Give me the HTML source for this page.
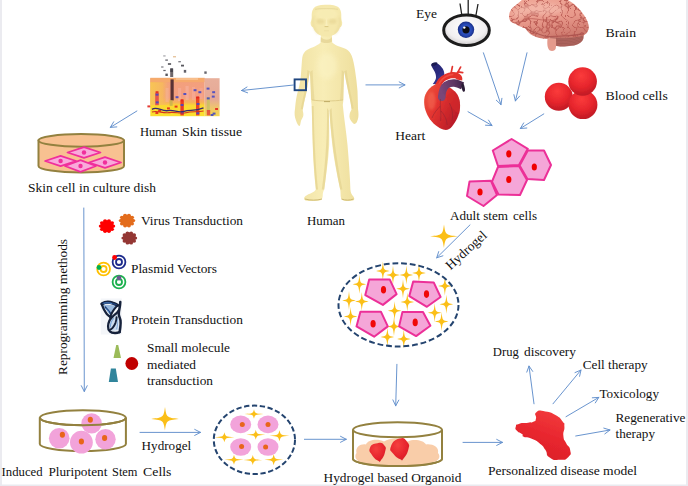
<!DOCTYPE html>
<html><head><meta charset="utf-8"><title>iPSC organoid diagram</title>
<style>
html,body{margin:0;padding:0;background:#fff;}
body{width:688px;height:486px;overflow:hidden;font-family:"Liberation Serif",serif;}
svg{display:block;}
svg text{font-family:"Liberation Serif",serif;fill:#111;}
</style></head><body>
<svg width="688" height="486" viewBox="0 0 688 486">
<defs>
<filter id="b1" x="-10%" y="-10%" width="120%" height="120%"><feGaussianBlur stdDeviation="0.6"/></filter>
<filter id="b2" x="-10%" y="-10%" width="120%" height="120%"><feGaussianBlur stdDeviation="1.2"/></filter>
<filter id="b3" x="-20%" y="-20%" width="140%" height="140%"><feGaussianBlur stdDeviation="2"/></filter>
<radialGradient id="rbc" cx="0.45" cy="0.3" r="0.75"><stop offset="0" stop-color="#fb3b3b"/><stop offset="0.55" stop-color="#e6252c"/><stop offset="1" stop-color="#b81823"/></radialGradient>
<linearGradient id="hum" x1="0" x2="1"><stop offset="0" stop-color="#f0e1a2"/><stop offset="0.45" stop-color="#f8edb6"/><stop offset="1" stop-color="#eede9c"/></linearGradient>
<radialGradient id="eyew" cx="0.5" cy="0.4" r="0.7"><stop offset="0" stop-color="#ffffff"/><stop offset="0.6" stop-color="#f1eff0"/><stop offset="1" stop-color="#b9b5b6"/></radialGradient>
<radialGradient id="iris" cx="0.5" cy="0.5" r="0.5"><stop offset="0" stop-color="#3a63d6"/><stop offset="0.7" stop-color="#2748b4"/><stop offset="1" stop-color="#1a2f86"/></radialGradient>
<linearGradient id="skinf" x1="0" x2="0" y1="0" y2="1"><stop offset="0" stop-color="#f3a07c"/><stop offset="0.5" stop-color="#f49e80"/><stop offset="0.64" stop-color="#f7b458"/><stop offset="0.72" stop-color="#fbd830"/><stop offset="1" stop-color="#fbe02e"/></linearGradient>
<linearGradient id="skinl" x1="0" x2="1" y1="0" y2="0"><stop offset="0" stop-color="#f8c752" stop-opacity="0.95"/><stop offset="0.6" stop-color="#f7bd58" stop-opacity="0.8"/><stop offset="1" stop-color="#f5ab6c" stop-opacity="0"/></linearGradient>
<linearGradient id="skins" x1="0" x2="0" y1="0" y2="1"><stop offset="0" stop-color="#e8b09c"/><stop offset="0.55" stop-color="#e6a896"/><stop offset="0.78" stop-color="#efc66c"/><stop offset="1" stop-color="#f3d650"/></linearGradient>
<filter id="b1s" x="-10%" y="-30%" width="120%" height="160%"><feGaussianBlur stdDeviation="0.7"/></filter>
<linearGradient id="brn" x1="0" x2="0.3" y1="0" y2="1"><stop offset="0" stop-color="#f0a898"/><stop offset="0.6" stop-color="#e8988a"/><stop offset="1" stop-color="#d07c70"/></linearGradient>
<linearGradient id="hrt" x1="0" x2="1" y1="0" y2="0.6"><stop offset="0" stop-color="#ee5a40"/><stop offset="0.45" stop-color="#e43430"/><stop offset="1" stop-color="#b81c28"/></linearGradient>
<filter id="gyri" x="0" y="0" width="100%" height="100%" color-interpolation-filters="sRGB"><feTurbulence type="turbulence" baseFrequency="0.16 0.18" numOctaves="1" seed="5" result="t"/><feColorMatrix in="t" type="matrix" values="0 0 0 0 0.74  0 0 0 0 0.37  0 0 0 0 0.34  -7 0 0 0 0.95"/></filter>
<linearGradient id="blobg" x1="0.7" x2="0.3" y1="0" y2="1"><stop offset="0" stop-color="#f23a3c"/><stop offset="0.5" stop-color="#e8262e"/><stop offset="1" stop-color="#d91f29"/></linearGradient>
<filter id="b0" x="-10%" y="-10%" width="120%" height="120%"><feGaussianBlur stdDeviation="0.4"/></filter>
<radialGradient id="strw" cx="0.4" cy="0.3" r="0.8"><stop offset="0" stop-color="#f5403f"/><stop offset="0.6" stop-color="#e6252d"/><stop offset="1" stop-color="#cf1c27"/></radialGradient>
<linearGradient id="vcg" x1="0" x2="0.6" y1="0" y2="1"><stop offset="0" stop-color="#23236a"/><stop offset="0.6" stop-color="#2c2c80"/><stop offset="1" stop-color="#3c3c96"/></linearGradient>
<linearGradient id="pag" gradientUnits="userSpaceOnUse" x1="441" y1="90" x2="464" y2="86"><stop offset="0" stop-color="#7a4678"/><stop offset="0.6" stop-color="#5e3562"/><stop offset="1" stop-color="#40254a"/></linearGradient>
</defs>
<rect width="688" height="486" fill="#fff"/>
<rect x="0" y="0" width="2" height="486" fill="#ebebf0"/>
<rect x="686" y="0" width="2" height="486" fill="#ebebf0"/>
<rect x="0" y="484.5" width="688" height="1.5" fill="#e9eaef"/>

<g id="human" filter="url(#b1)">
<path d="M321,34 L320.6,42.5 C317,46.5 309,48 305.5,51 C303,53.5 302.3,56 302,60 C301.3,68 301.2,74 300.4,80 C299,88 296.8,94 296,100 C295.4,104 295.3,106 295,109 C294.2,113 294.6,117 296,120.5 C297,123.2 298.4,126.4 299.6,126 C300.6,125.2 300.4,122.2 301.2,120.2 C302,118.5 303.6,117 303.4,114 C303.2,112 302.7,111 302.8,109.5 C303.8,103 305.4,97 306.6,91.5 C307.8,85 308.8,78 309.8,71.5 C310.3,80 310.8,90 311,99 C311.2,101.5 311.4,103 311.6,105 C312.2,118 312.4,132 312.7,145 C313.1,160 314.4,176 315.8,189.5 C314.5,192.5 309,193.5 305.5,196 C303.5,197.5 303.5,200 305.5,200.6 C310,201.4 316,201.2 320,200.4 C322.4,199.8 322.8,197 322.8,194 C323,192 323.6,191 324.2,189.5 C326,175 328.6,159 329.2,145 C329.5,132 329.1,120 328.8,110.5 C329,109.8 329.2,109.8 329.4,110.5 C330,121 331,133 332.3,145 C334,160 337.4,176 340.2,189.5 C340.4,191 340.6,192.5 340.6,194.5 C340.6,197.5 341,199.8 343.4,200.4 C346.5,201.2 350.6,201.2 353,200.6 C354.8,200 354.6,197.6 353.2,196.2 C351.8,194.6 350.6,193 350.4,189.5 C350,176 348.8,160 347.5,145 C346.3,132 344,118 342.8,105 C343,103 343.3,101.5 343.4,99 C343.6,90 343.9,80 344.2,71.5 C345.4,78 346.8,85 348.2,91.5 C349.4,97 350.8,103 351.6,109 C351,111 349.8,112.5 349.6,114.5 C349,117.5 350,119.5 351.2,121 C352.2,122.4 353,123.6 354.2,123.9 C355.8,124.2 357,122.2 357.8,119.5 C358.8,117 358.6,113 358,109 C357.8,103 357.8,97 357.5,91 C357,84 356,77 355,70 C354.2,65 353.2,59.5 351.8,56 C350.6,53 349,51 347.5,50 C344,47.5 336,46.5 332.2,42.5 L331.8,34 Z" fill="url(#hum)"/>
<path d="M310,72 C310.5,82 311,92 311.2,100 L314.5,100 C313.5,90 313,80 312.6,70 Z" fill="#e2d08c" opacity="0.55"/>
<path d="M344,72 C343.7,82 343.4,92 343.2,100 L340,100 C341,90 341.5,80 341.8,70 Z" fill="#e2d08c" opacity="0.55"/>
<path d="M312,100 C320,101.3 334,101.3 343,100" stroke="#d6c27c" stroke-width="0.9" fill="none" opacity="0.8"/>
<path d="M324,101.6 L330,101.6" stroke="#b9a560" stroke-width="0.9" fill="none"/>
<ellipse cx="327" cy="66" rx="10" ry="13" fill="#fbf3c4" opacity="0.6" filter="url(#b3)"/>
<path d="M320.8,37 C324,40.5 330,40.5 331.8,37 L331.9,41.5 C329,43.5 323.5,43.5 320.7,41.5 Z" fill="#dcc987" opacity="0.55"/>
<path d="M328.8,110.5 C329.3,130 328.6,160 324.2,189.5 L321.8,189.5 C326,160 327.4,130 327,108 Z" fill="#e4d390" opacity="0.7"/>
<path d="M329.4,110.5 C330.5,130 334,160 340.2,189.5 L342.4,189.5 C336.5,160 332.6,130 331.6,108 Z" fill="#e4d390" opacity="0.7"/>
<path d="M311.8,106 C312.2,130 313.2,165 316,189.5 L318,189.5 C315.2,165 314,130 313.6,106 Z" fill="#e6d491" opacity="0.8"/>
<path d="M309.8,71.5 C308.8,78 307.8,85 306.6,91.5 C305.4,97 303.8,103 302.8,109.5 L300.8,109 C302,102 303.6,96 304.6,91 C305.8,85 306.8,78 307.4,70 Z" fill="#e2d08c" opacity="0.6"/>
<path d="M344.2,71.5 C345.4,78 346.8,85 348.2,91.5 C349.4,97 350.8,103 351.6,109 L353.6,108.6 C352.6,102 351.2,96 350.2,91 C349,85 347.6,78 346.6,70 Z" fill="#e2d08c" opacity="0.6"/>
<path d="M305,199 C310,200.5 317,200.5 322,199" stroke="#cdb974" stroke-width="1" fill="none"/>
<path d="M341.5,199 C345,200.5 350,200.5 353.5,199" stroke="#cdb974" stroke-width="1" fill="none"/>
<path d="M326.5,4.8 C333,4.6 337.5,5.6 339.6,8.6 C341.2,11 341.4,14 341.3,17.5 C341.4,19.5 341.6,20.5 342.2,22.5 C342.4,25.5 341,27.2 340,27.2 C338.6,32 334,36.6 326.5,36.6 C319,36.6 314.4,32 313,27.2 C312,27.2 310.4,25.5 310.6,22.5 C311.2,20.5 311.6,19.5 311.7,17.5 C311.6,14 311.8,11 313.4,8.6 C315.5,5.6 320,4.6 326.5,4.8 Z" fill="#f5e8ac"/>
<ellipse cx="326.5" cy="14" rx="11" ry="6" fill="#f9efb9" opacity="0.6" filter="url(#b2)"/>
<path d="M315,9.3 C320,8.4 333,8.4 338,9.3" stroke="#d9c785" stroke-width="0.7" fill="none" opacity="0.7"/>
<ellipse cx="320.3" cy="21.3" rx="4" ry="2.6" fill="#dfcb86" opacity="0.42" filter="url(#b2)"/>
<ellipse cx="332.7" cy="21.3" rx="4" ry="2.6" fill="#dfcb86" opacity="0.42" filter="url(#b2)"/>
<path d="M326.5,17 L325.3,26 L327.7,26 Z" fill="#faf0be" opacity="0.9"/>
<path d="M324.6,26.6 L328.4,26.6" stroke="#d8c47f" stroke-width="0.9"/>
<path d="M324,30.8 L329,30.8" stroke="#e4d394" stroke-width="0.6" opacity="0.6"/>
<path d="M339.5,17 C341,22 339.5,29 335,34" stroke="#e4d190" stroke-width="1.6" fill="none" opacity="0.6" filter="url(#b2)"/>
<path d="M313.5,17 C312,22 313.5,29 318,34" stroke="#e4d190" stroke-width="1.6" fill="none" opacity="0.5" filter="url(#b2)"/>
</g>
<g id="skin" filter="url(#b1s)">
<rect x="150.3" y="78.2" width="54.4" height="38" fill="url(#skinf)"/>
<rect x="150.3" y="82" width="20" height="23" fill="url(#skinl)"/>
<rect x="150.3" y="77.8" width="54.4" height="4.4" fill="#f5ab6c" opacity="0.95"/>
<rect x="176" y="78" width="22" height="2" fill="#f9c79a" opacity="0.7"/>
<rect x="204.6" y="78.2" width="15" height="38" fill="url(#skins)"/>
<rect x="165.5" y="88" width="3.2" height="14" fill="#f6b59a" opacity="0.5"/>
<rect x="178" y="88" width="3.2" height="13" fill="#f7b4a4" opacity="0.5"/>
<rect x="185.5" y="86" width="3.2" height="14" fill="#f8b8a8" opacity="0.5"/>
<rect x="192" y="87" width="3.2" height="13" fill="#f7b0a0" opacity="0.5"/>
<rect x="199.5" y="88" width="3.2" height="11" fill="#f6aa98" opacity="0.5"/>
<rect x="170.5" y="79.4" width="3.2" height="21" fill="#5a3234"/>
<rect x="170.2" y="68.5" width="3" height="8.5" fill="#4a4148" opacity="0.8"/>
<rect x="169.6" y="100.3" width="3" height="5.6" fill="#c9b04e" opacity="0.85"/>
<rect x="180.4" y="100.4" width="3.4" height="15" fill="#ea3a26"/>
<rect x="196" y="97" width="3.4" height="18.4" fill="#ea4226"/>
<rect x="155.2" y="92.8" width="3.6" height="12.4" fill="#e4504e" opacity="0.95"/>
<rect x="206.8" y="97" width="3" height="14" fill="#c8c060" opacity="0.85"/>
<rect x="206.8" y="110" width="3.4" height="5.4" fill="#e24a3a" opacity="0.9"/>
<rect x="155.6" y="93.6" width="2.9" height="2" fill="#4448c4" opacity="0.9"/>
<rect x="155.8" y="101.4" width="2.9" height="2" fill="#4448c4" opacity="0.9"/>
<rect x="180.8" y="111.8" width="2.9" height="2" fill="#4448c4" opacity="0.9"/>
<rect x="196.4" y="112.2" width="2.9" height="2" fill="#4448c4" opacity="0.9"/>
<rect x="175.6" y="96.2" width="2.9" height="2" fill="#4448c4" opacity="0.9"/>
<rect x="183.4" y="93.0" width="2.9" height="2" fill="#4448c4" opacity="0.9"/>
<rect x="198.4" y="91.2" width="2.9" height="2" fill="#4448c4" opacity="0.9"/>
<rect x="193.6" y="89.2" width="2.9" height="2" fill="#4448c4" opacity="0.9"/>
<rect x="206.6" y="87.6" width="2.9" height="2" fill="#4448c4" opacity="0.9"/>
<rect x="212.2" y="91.2" width="2.9" height="2" fill="#4448c4" opacity="0.9"/>
<rect x="211.8" y="95.6" width="2.9" height="2" fill="#4448c4" opacity="0.9"/>
<rect x="206.8" y="97.4" width="2.9" height="2" fill="#4448c4" opacity="0.9"/>
<rect x="212.6" y="112.6" width="2.9" height="2" fill="#4448c4" opacity="0.9"/>
<rect x="210.6" y="114.0" width="2.9" height="2" fill="#4448c4" opacity="0.9"/>
<rect x="180.6" y="104.0" width="2.9" height="2" fill="#4448c4" opacity="0.9"/>
<rect x="196.6" y="103.0" width="2.9" height="2" fill="#4448c4" opacity="0.9"/>
<rect x="147.4" y="105.4" width="2.9" height="2" fill="#e2261e" opacity="0.9"/>
<rect x="155.4" y="112.0" width="2.9" height="2" fill="#e2261e" opacity="0.9"/>
<rect x="167.0" y="107.4" width="2.9" height="2" fill="#e2261e" opacity="0.9"/>
<rect x="174.6" y="105.6" width="2.9" height="2" fill="#e2261e" opacity="0.9"/>
<rect x="180.6" y="99.2" width="2.9" height="2" fill="#e2261e" opacity="0.9"/>
<rect x="196.2" y="96.4" width="2.9" height="2" fill="#e2261e" opacity="0.9"/>
<rect x="155.6" y="91.2" width="2.9" height="2" fill="#e2261e" opacity="0.9"/>
<rect x="215.1" y="108.0" width="2.9" height="2" fill="#e2261e" opacity="0.9"/>
<rect x="158.1" y="109.8" width="2.9" height="2" fill="#e2261e" opacity="0.9"/>
<path d="M152,109.4 C157,106 162,111.8 168,110.6 C174,109.4 178,113.2 184,111.4 C190,109.6 195,111.6 203.5,107.8" stroke="#352a70" stroke-width="1.3" fill="none"/>
<path d="M152,112 C158,110.2 163,113.8 169,112.6 C175,111.4 180,114.4 186,112.8 C192,111.2 197,112.4 203.5,111" stroke="#d4321e" stroke-width="1.1" fill="none"/>
<rect x="165.3" y="59.5" width="2.6" height="1.2" fill="#4a4a52" opacity="0.9"/>
<rect x="167.9" y="63.2" width="3.2" height="1.6" fill="#3d3d46" opacity="0.9"/>
<rect x="181.0" y="64.7" width="3" height="1.8" fill="#45454e" opacity="0.9"/>
<rect x="170.3" y="68.4" width="2.6" height="3.6" fill="#3f3f48" opacity="0.9"/>
<rect x="183.8" y="69.9" width="2.4" height="2.8" fill="#50505a" opacity="0.9"/>
<rect x="165.4" y="73.6" width="2.4" height="2.4" fill="#44444c" opacity="0.9"/>
<rect x="204.3" y="71.4" width="2.4" height="2.4" fill="#55555e" opacity="0.9"/>
<rect x="161.1" y="66.4" width="2.4" height="1.2" fill="#6a6a72" opacity="0.9"/>
<rect x="163.3" y="69.9" width="2.4" height="1.2" fill="#55555c" opacity="0.9"/>
<rect x="178.3" y="61.2" width="2.6" height="1.1" fill="#55555e" opacity="0.9"/>
<rect x="173.0" y="56.3" width="3" height="1" fill="#d9a46a" opacity="0.9"/>
<rect x="163.2" y="55.5" width="2.4" height="0.9" fill="#77777e" opacity="0.9"/>
</g>
<clipPath id="brclip"><path d="M509,16 C509.3,11.5 511.5,8 515.5,5.6 C518,3.6 520.5,1 523,-1 L566,-1 C571,1.5 575.5,4.5 579,9 C584,14.5 588.2,20.5 588.8,26.5 C589,30.5 587,33.5 583.5,35.4 C577,37.4 566,38 556,37.4 C552,37.2 549.5,37.6 547.5,38.6 C543.5,38.8 539.5,38.2 536.3,37 C531,35 527.5,32 525.4,28.4 C522,27.5 518.5,26 516,24 C512.5,23.4 510,21.5 509.6,19.5 C509.2,18.4 509,17.2 509,16 Z"/></clipPath>
<clipPath id="cbclip"><path d="M549.5,36 C556,37.6 572,37.6 583.4,34.6 C584.6,39.5 581.5,44 574,45.6 C566,47 556,46.6 551.5,44.4 C550,42 549.5,39 549.5,36 Z"/></clipPath>
<g id="brain" filter="url(#b1)">
<path d="M549.5,36 C556,37.6 572,37.6 583.4,34.6 C584.6,39.5 581.5,44 574,45.6 C566,47 556,46.6 551.5,44.4 C550,42 549.5,39 549.5,36 Z" fill="#b56a62"/>
<g clip-path="url(#cbclip)">
<path d="M549,37.5 C560,40.1 572,39.7 585,35.1" stroke="#8e4d49" stroke-width="0.6" fill="none" opacity="0.85"/>
<path d="M549,39.0 C560,41.6 572,41.2 585,36.6" stroke="#8e4d49" stroke-width="0.6" fill="none" opacity="0.85"/>
<path d="M549,40.5 C560,43.1 572,42.7 585,38.1" stroke="#8e4d49" stroke-width="0.6" fill="none" opacity="0.85"/>
<path d="M549,42.0 C560,44.6 572,44.2 585,39.6" stroke="#8e4d49" stroke-width="0.6" fill="none" opacity="0.85"/>
<path d="M549,43.5 C560,46.1 572,45.7 585,41.1" stroke="#8e4d49" stroke-width="0.6" fill="none" opacity="0.85"/>
<path d="M549,45.0 C560,47.6 572,47.2 585,42.6" stroke="#8e4d49" stroke-width="0.6" fill="none" opacity="0.85"/>
<path d="M549,46.5 C560,49.1 572,48.7 585,44.1" stroke="#8e4d49" stroke-width="0.6" fill="none" opacity="0.85"/>
</g>
<path d="M547.6,38 C547,43 547.2,48 549.5,50.2 C551.5,51.4 554.5,51 555.6,49 C556.4,46 556,42 556,38.5 Z" fill="#e49a8c"/>
<path d="M509,16 C509.3,11.5 511.5,8 515.5,5.6 C518,3.6 520.5,1 523,-1 L566,-1 C571,1.5 575.5,4.5 579,9 C584,14.5 588.2,20.5 588.8,26.5 C589,30.5 587,33.5 583.5,35.4 C577,37.4 566,38 556,37.4 C552,37.2 549.5,37.6 547.5,38.6 C543.5,38.8 539.5,38.2 536.3,37 C531,35 527.5,32 525.4,28.4 C522,27.5 518.5,26 516,24 C512.5,23.4 510,21.5 509.6,19.5 C509.2,18.4 509,17.2 509,16 Z" fill="url(#brn)"/>
<g clip-path="url(#brclip)">
<rect x="505" y="-2" width="90" height="45" fill="#c0635b" filter="url(#gyri)"/>
<path d="M516,23.8 C521,22.4 524,20 527,19 C533,17.5 540,20.5 546,20 C552,19.5 556,22.5 561,24.5" stroke="#b85a54" stroke-width="0.9" fill="none" opacity="0.8"/>
<path d="M525.4,28.4 C529,29.5 531.5,32 535.5,33 C539.5,34 543,36.5 548,36.6 C556,36.4 570,36.4 584,33.6" stroke="#a8504c" stroke-width="1.1" fill="none" opacity="0.8"/>
<ellipse cx="542" cy="9" rx="22" ry="6" fill="#f9c9bb" opacity="0.5" filter="url(#b3)"/>
<ellipse cx="519" cy="13" rx="7" ry="5" fill="#f7c2b3" opacity="0.5" filter="url(#b3)"/>
<path d="M575,40 C583,37 589,32 589,24 L592,24 L592,42 Z" fill="#c87468" opacity="0.35" filter="url(#b3)"/>
</g>
</g>
<g id="heart" filter="url(#b1)">
<path d="M431.1,64.9 C432.5,62.6 436,62.4 437.5,63.6 C439.5,65 441.4,66.8 442.6,68.6 C443.8,70.4 444.4,72.6 444.3,74.6 C444.2,76.6 443.6,78.6 442.4,80.4 C441.2,82.2 439.8,83.4 438.1,84.6 L432.8,84 C434.4,82 435.6,80 436,77.9 C436.2,75.4 435.4,73 434.3,71 C433.2,69 431.8,67 431.1,64.9 Z" fill="url(#vcg)"/>
<ellipse cx="434.4" cy="64" rx="3.2" ry="1.5" fill="#1a1a50" transform="rotate(-18 434.4 64)"/>
<path d="M450.7,75 L452.4,66.6 M455.4,75.4 L458,71.8 L460.6,67.1 M458,71.8 L462.7,72.7" stroke="#e2342e" stroke-width="1.7" fill="none" stroke-linecap="round"/>
<path d="M437.3,88 C439,82 442,78.6 445.9,77 C448.5,75.6 451,75 452.8,74.9 C455.5,75 457.8,75.8 458.9,77.4 C459.4,78.2 459.5,79 459.3,80" stroke="#e3302c" stroke-width="6" fill="none" stroke-linecap="butt" stroke-linejoin="round"/>
<path d="M439,84 C441,80 443.6,77.6 446.5,76.2 C449,75 451.4,74.4 453.4,74.4" stroke="#f25a48" stroke-width="1.6" opacity="0.7" fill="none" stroke-linecap="butt" stroke-linejoin="round"/>
<path d="M438.5,83.5 C432,85 426.4,90 424.6,97 C423.2,104 425,111 428.5,117 C432,123 438,128 444,129.8 C447.5,130.4 450,129 452,126.5 C456,121.5 459.5,115 460,107.5 C460.4,101 458.5,95 455,91.5 C451,88 445,84 438.5,83.5 Z" fill="url(#hrt)"/>
<path d="M446,97 C450,92 455,91 458,96 C460.6,101 460.6,108 459,114 C456,112 452,108 449.6,104 Z" fill="#d42a2c" opacity="0.6"/>
<path d="M441.6,97.5 C442,92 443.4,87.4 446.4,85 C449,83.2 452,82.8 454.5,83 C457.4,83.4 460,84.6 462.6,85.8" stroke="url(#pag)" stroke-width="7.4" fill="none" stroke-linecap="butt" stroke-linejoin="round"/>
<circle cx="441.7" cy="97.3" r="3.7" fill="#7a4678"/>
<ellipse cx="463.2" cy="87.6" rx="1.5" ry="4.3" fill="#2a1a34" transform="rotate(-12 463.2 87.6)"/>
<path d="M440.5,99 C439.6,106 441.6,113 440.6,121 M440.4,106 C436.6,110 433.8,113 432,118 M441,111 C444.6,115 446.6,119 447.2,125 M449.4,103 C452.2,108 453.2,114 452.2,120" stroke="#8a2430" stroke-width="0.7" fill="none" opacity="0.7"/>
<ellipse cx="431.6" cy="101" rx="4" ry="9" fill="#f8745c" opacity="0.45" filter="url(#b2)"/>
</g>
<g id="protein" filter="url(#b1)">
<rect x="100.8" y="298.5" width="21" height="36" fill="#f4f6f9"/>
<path d="M102.5,304.5 L116.5,305.5 L110.5,316 Z" fill="#4f86c6" opacity="0.55"/>
<path d="M110.5,320 C112,318 115,316 117.5,314 L119,330 L112,331 C109.5,328 109.5,323 110.5,320 Z" fill="#7fa9d8" opacity="0.35"/>
<path d="M101.9,303.8 C105,302 109,301.8 112.6,303 C114.6,303.6 116.2,304.4 117.7,305.3" stroke="#14203a" stroke-width="3.2" fill="none" stroke-linecap="round" stroke-linejoin="round"/>
<path d="M102.6,303.6 C105.4,302.4 109,302.4 112.4,303.4 C114,303.9 115.4,304.4 116.6,305" stroke="#1f3f78" stroke-width="1.6" fill="none" stroke-linecap="round" stroke-linejoin="round"/>
<path d="M104,303.2 C106.5,302.6 109,302.8 111.5,303.5" stroke="#5b93d3" stroke-width="0.8" fill="none" stroke-linecap="round" stroke-linejoin="round"/>
<path d="M101.9,304.7 C102.6,306.6 103.2,308.2 104.1,309.8 C105,311.4 106,313 107,314.3 C108.2,315.6 109.6,316.5 110.9,317.1" stroke="#14203a" stroke-width="2.3" fill="none" stroke-linecap="round" stroke-linejoin="round"/>
<path d="M105.3,307 C106.6,308.6 108,310 109.2,311.5 C109.9,312.4 110.5,313.3 110.9,314.3" stroke="#1f3f78" stroke-width="1.5" fill="none" stroke-linecap="round" stroke-linejoin="round"/>
<path d="M105.8,308.4 C107,309.6 108,310.8 108.8,312" stroke="#5b93d3" stroke-width="0.8" fill="none" stroke-linecap="round" stroke-linejoin="round"/>
<path d="M117.7,305.3 C116.4,306.6 115.3,307.9 114.3,309.2 C113.2,310.7 112.3,312.2 111.5,313.8 C110.9,315.1 110.4,316.4 110.1,317.7" stroke="#14203a" stroke-width="2" fill="none" stroke-linecap="round" stroke-linejoin="round"/>
<path d="M120.3,301.9 C120.2,304 120,306 119.6,308.1 C119.2,310.2 118.6,312.2 118.8,314.3 C119,316.4 120.2,318.4 120.5,320.5 C120.8,322.8 120.6,325 120.3,327.3 C120.1,328.9 119.9,330.5 119.6,332.1" stroke="#14203a" stroke-width="2.5" fill="none" stroke-linecap="round" stroke-linejoin="round"/>
<path d="M119.6,332.1 C118,332.8 116.5,333.1 114.9,333 C113,332.9 111,332.4 109.8,331.3 C108.5,330 108,328.1 108.1,326.2 C108.2,324.2 108.7,322.2 109.5,320.5 C110.3,319 111.4,317.7 112.6,316.6 C113.9,315.4 115.3,314.3 116.6,313.2 C117.4,312.4 118.2,311.4 118.8,310.4" stroke="#14203a" stroke-width="2.3" fill="none" stroke-linecap="round" stroke-linejoin="round"/>
<path d="M110.2,327 C110.4,324 111.4,321 113.4,318.6" stroke="#5b93d3" stroke-width="0.9" fill="none" stroke-linecap="round" stroke-linejoin="round"/>
<path d="M116.6,317.1 C116.5,319 116.1,321 115.5,322.8 C114.8,324.7 113.8,326.4 112.6,327.9 C112,328.6 111.2,329.2 110.4,329.6" stroke="#14203a" stroke-width="1.9" fill="none" stroke-linecap="round" stroke-linejoin="round"/>
<path d="M117.8,319 C118,322 117.6,326 116.6,329" stroke="#5b93d3" stroke-width="0.8" opacity="0.8" fill="none" stroke-linecap="round" stroke-linejoin="round"/>
</g>
<g id="eye">
<path d="M460,3.5L461.8,15M468.2,0L468.2,14M478,4L476,15" stroke="#222" stroke-width="1.3" fill="none"/>
<ellipse cx="466.5" cy="30.2" rx="22.8" ry="15.2" fill="url(#eyew)" stroke="#1c1c1c" stroke-width="3"/>
<circle cx="466" cy="29.8" r="8.2" fill="url(#iris)"/>
<circle cx="466" cy="29.8" r="3.6" fill="#0c0c14"/>
<circle cx="464.3" cy="27.6" r="1.2" fill="#fff"/>
</g>
<g id="blood" filter="url(#b0)">
<circle cx="558.8" cy="96.8" r="14" fill="url(#rbc)"/>
<circle cx="583" cy="104.7" r="14.4" fill="url(#rbc)"/>
<circle cx="582.6" cy="81.5" r="14.3" fill="url(#rbc)"/>
</g>
<polygon points="511.6,139.0 527.8,148.8 519.0,165.0 498.0,166.0 492.8,150.5" fill="#f5a6d8" stroke="#ec3098" stroke-width="2" stroke-linejoin="round"/>
<polygon points="527.8,150.5 544.0,150.5 551.0,165.0 544.0,180.0 527.4,179.0 519.6,165.6" fill="#f5a6d8" stroke="#ec3098" stroke-width="2" stroke-linejoin="round"/>
<polygon points="498.0,167.0 519.0,166.0 527.0,180.0 520.0,195.0 498.6,194.6 492.0,181.6" fill="#f5a6d8" stroke="#ec3098" stroke-width="2" stroke-linejoin="round"/>
<polygon points="469.5,181.6 491.0,180.8 497.0,195.0 483.5,206.0 467.0,196.0" fill="#f5a6d8" stroke="#ec3098" stroke-width="2" stroke-linejoin="round"/>
<ellipse cx="508.8" cy="153.8" rx="2.6" ry="3.6" fill="#f00000"/>
<ellipse cx="534.3" cy="167" rx="2.6" ry="3.6" fill="#f00000"/>
<ellipse cx="508.8" cy="179.5" rx="2.6" ry="3.6" fill="#f00000"/>
<ellipse cx="480" cy="192" rx="2.6" ry="3.6" fill="#f00000"/>
<path d="M382.9,261.5C383.71,269.86 383.71,269.86 389.6,271.0C383.71,272.14 383.71,272.14 382.9,280.5C382.09,272.14 382.09,272.14 376.1,271.0C382.09,269.86 382.09,269.86 382.9,261.5Z" fill="#fbbf17"/>
<path d="M393.0,265.6C393.81,273.96 393.81,273.96 399.8,275.1C393.81,276.24 393.81,276.24 393.0,284.6C392.19,276.24 392.19,276.24 386.2,275.1C392.19,273.96 392.19,273.96 393.0,265.6Z" fill="#fbbf17"/>
<path d="M406.4,265.6C407.21,273.96 407.21,273.96 413.1,275.1C407.21,276.24 407.21,276.24 406.4,284.6C405.59,276.24 405.59,276.24 399.6,275.1C405.59,273.96 405.59,273.96 406.4,265.6Z" fill="#fbbf17"/>
<path d="M419.0,263.5C419.81,271.86 419.81,271.86 425.8,273.0C419.81,274.14 419.81,274.14 419.0,282.5C418.19,274.14 418.19,274.14 412.2,273.0C418.19,271.86 418.19,271.86 419.0,263.5Z" fill="#fbbf17"/>
<path d="M359.4,274.8C360.21,283.16 360.21,283.16 366.1,284.3C360.21,285.44 360.21,285.44 359.4,293.8C358.59,285.44 358.59,285.44 352.6,284.3C358.59,283.16 358.59,283.16 359.4,274.8Z" fill="#fbbf17"/>
<path d="M403.0,279.3C403.81,287.66 403.81,287.66 409.8,288.8C403.81,289.94 403.81,289.94 403.0,298.3C402.19,289.94 402.19,289.94 396.2,288.8C402.19,287.66 402.19,287.66 403.0,279.3Z" fill="#fbbf17"/>
<path d="M444.9,276.4C445.71,284.76 445.71,284.76 451.6,285.9C445.71,287.04 445.71,287.04 444.9,295.4C444.09,287.04 444.09,287.04 438.1,285.9C444.09,284.76 444.09,284.76 444.9,276.4Z" fill="#fbbf17"/>
<path d="M349.0,290.9C349.81,299.26 349.81,299.26 355.8,300.4C349.81,301.54 349.81,301.54 349.0,309.9C348.19,301.54 348.19,301.54 342.2,300.4C348.19,299.26 348.19,299.26 349.0,290.9Z" fill="#fbbf17"/>
<path d="M361.8,292.0C362.61,300.36 362.61,300.36 368.6,301.5C362.61,302.64 362.61,302.64 361.8,311.0C360.99,302.64 360.99,302.64 355.1,301.5C360.99,300.36 360.99,300.36 361.8,292.0Z" fill="#fbbf17"/>
<path d="M407.3,292.4C408.11,300.76 408.11,300.76 414.1,301.9C408.11,303.04 408.11,303.04 407.3,311.4C406.49,303.04 406.49,303.04 400.6,301.9C406.49,300.76 406.49,300.76 407.3,292.4Z" fill="#fbbf17"/>
<path d="M446.4,294.8C447.21,303.16 447.21,303.16 453.1,304.3C447.21,305.44 447.21,305.44 446.4,313.8C445.59,305.44 445.59,305.44 439.6,304.3C445.59,303.16 445.59,303.16 446.4,294.8Z" fill="#fbbf17"/>
<path d="M350.6,307.1C351.41,315.46 351.41,315.46 357.4,316.6C351.41,317.74 351.41,317.74 350.6,326.1C349.79,317.74 349.79,317.74 343.9,316.6C349.79,315.46 349.79,315.46 350.6,307.1Z" fill="#fbbf17"/>
<path d="M394.6,301.2C395.41,309.56 395.41,309.56 401.4,310.7C395.41,311.84 395.41,311.84 394.6,320.2C393.79,311.84 393.79,311.84 387.9,310.7C393.79,309.56 393.79,309.56 394.6,301.2Z" fill="#fbbf17"/>
<path d="M434.7,303.2C435.51,311.56 435.51,311.56 441.4,312.7C435.51,313.84 435.51,313.84 434.7,322.2C433.89,313.84 433.89,313.84 427.9,312.7C433.89,311.56 433.89,311.56 434.7,303.2Z" fill="#fbbf17"/>
<path d="M441.6,312.0C442.41,320.36 442.41,320.36 448.4,321.5C442.41,322.64 442.41,322.64 441.6,331.0C440.79,322.64 440.79,322.64 434.9,321.5C440.79,320.36 440.79,320.36 441.6,312.0Z" fill="#fbbf17"/>
<path d="M394.0,316.9C394.81,325.26 394.81,325.26 400.8,326.4C394.81,327.54 394.81,327.54 394.0,335.9C393.19,327.54 393.19,327.54 387.2,326.4C393.19,325.26 393.19,325.26 394.0,316.9Z" fill="#fbbf17"/>
<path d="M387.4,327.6C388.21,335.96 388.21,335.96 394.1,337.1C388.21,338.24 388.21,338.24 387.4,346.6C386.59,338.24 386.59,338.24 380.6,337.1C386.59,335.96 386.59,335.96 387.4,327.6Z" fill="#fbbf17"/>
<path d="M403.8,329.6C404.61,337.96 404.61,337.96 410.6,339.1C404.61,340.24 404.61,340.24 403.8,348.6C402.99,340.24 402.99,340.24 397.1,339.1C402.99,337.96 402.99,337.96 403.8,329.6Z" fill="#fbbf17"/>
<ellipse cx="398.5" cy="304.9" rx="60" ry="41.6" fill="none" stroke="#24446f" stroke-width="2" stroke-dasharray="5.8 2.9"/>
<polygon points="369.2,279.4 389.7,279.4 396.6,294.1 382.9,304.9 365.3,295.1" fill="#f5a6d8" stroke="#ec3098" stroke-width="2" stroke-linejoin="round"/>
<ellipse cx="383.5" cy="289.8" rx="2.6" ry="3.8" fill="#f00808"/>
<polygon points="413.2,281.4 433.7,282.4 440.6,297.0 426.9,306.8 409.3,296.1" fill="#f5a6d8" stroke="#ec3098" stroke-width="2" stroke-linejoin="round"/>
<ellipse cx="426.5" cy="294.1" rx="2.6" ry="3.8" fill="#f00808"/>
<polygon points="360.4,311.7 380.9,311.7 387.8,326.4 374.1,336.7 356.5,326.4" fill="#f5a6d8" stroke="#ec3098" stroke-width="2" stroke-linejoin="round"/>
<ellipse cx="373.1" cy="323.8" rx="2.6" ry="3.8" fill="#f00808"/>
<polygon points="402.4,312.1 423.0,312.1 430.4,325.8 416.1,336.1 399.1,326.4" fill="#f5a6d8" stroke="#ec3098" stroke-width="2" stroke-linejoin="round"/>
<ellipse cx="415.2" cy="322.4" rx="2.6" ry="3.8" fill="#f00808"/>
<path d="M444.0,224.4C445.54,234.91 445.54,234.91 458.0,236.2C445.54,237.49 445.54,237.49 444.0,247.9C442.46,237.49 442.46,237.49 430.0,236.2C442.46,234.91 442.46,234.91 444.0,224.4Z" fill="#fbbf17"/>
<path d="M38.5,140.4 L38.5,166 A42.7,6.5 0 0 0 124,166 L124,140.4 Z" fill="#f8c191" stroke="#93813f" stroke-width="2"/>
<ellipse cx="81.2" cy="140.4" rx="42.7" ry="6.3" fill="#f8c191" stroke="#93813f" stroke-width="2"/>
<polygon points="67.5,152.5 84.0,147.2 100.5,152.5 84.0,157.8" fill="#f9a9da" stroke="#f02f9b" stroke-width="1.8" stroke-linejoin="round"/>
<circle cx="84" cy="152.5" r="2.2" fill="#f02f9b"/>
<polygon points="45.1,161.0 60.6,155.8 76.1,161.0 60.6,166.2" fill="#f9a9da" stroke="#f02f9b" stroke-width="1.8" stroke-linejoin="round"/>
<circle cx="60.6" cy="161" r="2.2" fill="#f02f9b"/>
<polygon points="89.0,162.5 105.0,157.2 121.0,162.5 105.0,167.8" fill="#f9a9da" stroke="#f02f9b" stroke-width="1.8" stroke-linejoin="round"/>
<circle cx="105" cy="162.5" r="2.2" fill="#f02f9b"/>
<polygon points="65.0,166.0 80.5,160.2 96.0,166.0 80.5,171.8" fill="#f9a9da" stroke="#f02f9b" stroke-width="1.8" stroke-linejoin="round"/>
<circle cx="80.5" cy="166" r="2.2" fill="#f02f9b"/>
<g transform="translate(107,226.1) scale(1,0.87)">
<circle cx="0" cy="0" r="6.79" fill="#ff0000"/>
<circle cx="6.32" cy="0.00" r="1.90" fill="#ff0000"/>
<circle cx="5.11" cy="3.71" r="1.90" fill="#ff0000"/>
<circle cx="1.95" cy="6.01" r="1.90" fill="#ff0000"/>
<circle cx="-1.95" cy="6.01" r="1.90" fill="#ff0000"/>
<circle cx="-5.11" cy="3.71" r="1.90" fill="#ff0000"/>
<circle cx="-6.32" cy="0.00" r="1.90" fill="#ff0000"/>
<circle cx="-5.11" cy="-3.71" r="1.90" fill="#ff0000"/>
<circle cx="-1.95" cy="-6.01" r="1.90" fill="#ff0000"/>
<circle cx="1.95" cy="-6.01" r="1.90" fill="#ff0000"/>
<circle cx="5.11" cy="-3.71" r="1.90" fill="#ff0000"/>
</g>
<g transform="translate(127,220.6) scale(1,0.87)">
<circle cx="0" cy="0" r="6.79" fill="#e36c1c"/>
<circle cx="6.32" cy="0.00" r="1.90" fill="#e36c1c"/>
<circle cx="5.11" cy="3.71" r="1.90" fill="#e36c1c"/>
<circle cx="1.95" cy="6.01" r="1.90" fill="#e36c1c"/>
<circle cx="-1.95" cy="6.01" r="1.90" fill="#e36c1c"/>
<circle cx="-5.11" cy="3.71" r="1.90" fill="#e36c1c"/>
<circle cx="-6.32" cy="0.00" r="1.90" fill="#e36c1c"/>
<circle cx="-5.11" cy="-3.71" r="1.90" fill="#e36c1c"/>
<circle cx="-1.95" cy="-6.01" r="1.90" fill="#e36c1c"/>
<circle cx="1.95" cy="-6.01" r="1.90" fill="#e36c1c"/>
<circle cx="5.11" cy="-3.71" r="1.90" fill="#e36c1c"/>
</g>
<g transform="translate(129.3,238) scale(1,0.87)">
<circle cx="0" cy="0" r="6.54" fill="#943734"/>
<circle cx="6.08" cy="0.00" r="1.82" fill="#943734"/>
<circle cx="4.92" cy="3.57" r="1.82" fill="#943734"/>
<circle cx="1.88" cy="5.78" r="1.82" fill="#943734"/>
<circle cx="-1.88" cy="5.78" r="1.82" fill="#943734"/>
<circle cx="-4.92" cy="3.57" r="1.82" fill="#943734"/>
<circle cx="-6.08" cy="0.00" r="1.82" fill="#943734"/>
<circle cx="-4.92" cy="-3.57" r="1.82" fill="#943734"/>
<circle cx="-1.88" cy="-5.78" r="1.82" fill="#943734"/>
<circle cx="1.88" cy="-5.78" r="1.82" fill="#943734"/>
<circle cx="4.92" cy="-3.57" r="1.82" fill="#943734"/>
</g>
<circle cx="103.6" cy="269" r="6.4" fill="#fff" stroke="#ffc000" stroke-width="1.8"/>
<circle cx="103.6" cy="269" r="3" fill="#fff" stroke="#ffc000" stroke-width="1.8"/>
<circle cx="99" cy="267.5" r="2.4" fill="#00b050"/>
<circle cx="119" cy="262" r="6.4" fill="#fff" stroke="#1c2a8c" stroke-width="1.8"/>
<circle cx="119" cy="262" r="3" fill="#fff" stroke="#1c2a8c" stroke-width="1.8"/>
<circle cx="114.6" cy="257.5" r="2.4" fill="#ff0000"/>
<circle cx="119" cy="282" r="6.4" fill="#fff" stroke="#1cb04e" stroke-width="1.8"/>
<circle cx="119" cy="282" r="3" fill="#fff" stroke="#1cb04e" stroke-width="1.8"/>
<circle cx="119" cy="278" r="2.4" fill="#6b5b8f"/>
<polygon points="116.2,345 118.2,345 121,358 113.5,358" fill="#9bbb59"/>
<polygon points="110.9,368.4 115.8,368.4 118,382 108.8,382" fill="#31859c"/>
<circle cx="131.8" cy="363.5" r="6.4" fill="#c00000"/>
<path d="M39.8,417.7 L39.8,444 A43,7 0 0 0 125.9,444 L125.9,417.7" fill="#fff" stroke="#93813f" stroke-width="2"/>
<ellipse cx="82.85" cy="417.7" rx="43" ry="7.5" fill="#fff" stroke="#93813f" stroke-width="2"/>
<circle cx="91.6" cy="423.4" r="10.2" fill="#f2a3da"/>
<ellipse cx="90.3" cy="419.8" rx="2.6" ry="3" fill="#e8651a"/>
<circle cx="59.2" cy="438.2" r="10.3" fill="#f2a3da"/>
<ellipse cx="62.4" cy="434.8" rx="2.6" ry="3" fill="#e8651a"/>
<circle cx="105.5" cy="439.3" r="10.2" fill="#f2a3da"/>
<ellipse cx="104.6" cy="438" rx="2.6" ry="3" fill="#e8651a"/>
<circle cx="81.4" cy="442.2" r="11.4" fill="#f2a3da"/>
<ellipse cx="81.4" cy="441.4" rx="2.6" ry="3" fill="#e8651a"/>
<path d="M39.8,417.7 A43,7.5 0 0 0 125.9,417.7" fill="none" stroke="#93813f" stroke-width="2"/>
<path d="M165.0,407.1C166.51,417.61 166.51,417.61 178.8,418.9C166.51,420.19 166.51,420.19 165.0,430.6C163.49,420.19 163.49,420.19 151.2,418.9C163.49,417.61 163.49,417.61 165.0,407.1Z" fill="#fbbf17"/>
<ellipse cx="254.4" cy="439.8" rx="40.6" ry="34.2" fill="none" stroke="#24446f" stroke-width="2" stroke-dasharray="5.3 2.6"/>
<ellipse cx="240.7" cy="424.4" rx="10.5" ry="8.8" fill="#f2a3da"/>
<circle cx="242.3" cy="424.4" r="2.5" fill="#e8651a"/>
<ellipse cx="268" cy="424.4" rx="10.5" ry="8.8" fill="#f2a3da"/>
<circle cx="268" cy="424.4" r="2.5" fill="#e8651a"/>
<ellipse cx="240.7" cy="447" rx="10.5" ry="8.8" fill="#f2a3da"/>
<circle cx="241.6" cy="446.5" r="2.5" fill="#e8651a"/>
<ellipse cx="268" cy="447" rx="10.5" ry="8.8" fill="#f2a3da"/>
<circle cx="265.6" cy="447" r="2.5" fill="#e8651a"/>
<path d="M254.0,409.2C255.14,413.43 255.14,413.43 263.5,414.0C255.14,414.57 255.14,414.57 254.0,418.8C252.86,414.57 252.86,414.57 244.5,414.0C252.86,413.43 252.86,413.43 254.0,409.2Z" fill="#fbbf17"/>
<path d="M224.4,432.2C225.60,436.60 225.60,436.60 234.4,437.2C225.60,437.80 225.60,437.80 224.4,442.2C223.20,437.80 223.20,437.80 214.4,437.2C223.20,436.60 223.20,436.60 224.4,432.2Z" fill="#fbbf17"/>
<path d="M255.8,429.7C256.94,434.10 256.94,434.10 265.3,434.7C256.94,435.30 256.94,435.30 255.8,439.7C254.66,435.30 254.66,435.30 246.3,434.7C254.66,434.10 254.66,434.10 255.8,429.7Z" fill="#fbbf17"/>
<path d="M279.5,430.3C280.70,435.14 280.70,435.14 289.5,435.8C280.70,436.46 280.70,436.46 279.5,441.3C278.30,436.46 278.30,436.46 269.5,435.8C278.30,435.14 278.30,435.14 279.5,430.3Z" fill="#fbbf17"/>
<path d="M234.0,454.8C235.14,459.20 235.14,459.20 243.5,459.8C235.14,460.40 235.14,460.40 234.0,464.8C232.86,460.40 232.86,460.40 224.5,459.8C232.86,459.20 232.86,459.20 234.0,454.8Z" fill="#fbbf17"/>
<path d="M252.8,455.0C253.94,459.40 253.94,459.40 262.3,460.0C253.94,460.60 253.94,460.60 252.8,465.0C251.66,460.60 251.66,460.60 243.3,460.0C251.66,459.40 251.66,459.40 252.8,455.0Z" fill="#fbbf17"/>
<path d="M273.7,454.3C274.84,459.14 274.84,459.14 283.2,459.8C274.84,460.46 274.84,460.46 273.7,465.3C272.56,460.46 272.56,460.46 264.2,459.8C272.56,459.14 272.56,459.14 273.7,454.3Z" fill="#fbbf17"/>
<path d="M353,429.8 L353,459 A44.5,7 0 0 0 442,459 L442,429.8" fill="#fff" stroke="#93813f" stroke-width="2"/>
<path d="M356.5,453 C355,447 361,443.5 366,444.5 C368,439.5 378,438.5 384,441.5 C390,437.5 402,437.5 408,441.5 C414,438.5 424,440.5 426,444.5 C432,443.5 439.5,447 438,453 C441.5,457 438,461.5 433,462 C426,465.5 410,466.5 398,466.3 C386,466.5 370,465.5 362,462.5 C357,462 353.5,457 356.5,453 Z" fill="#f9cda9" filter="url(#b0)"/>
<path d="M353,459 A44.5,7 0 0 0 442,459" fill="none" stroke="#93813f" stroke-width="2"/>
<ellipse cx="397.5" cy="429.8" rx="44.5" ry="7.5" fill="none" stroke="#93813f" stroke-width="2"/>
<path d="M370.0,447.7C371.5,444.0 373.1,443.9 377.4,443.2C381.7,442.5 381.9,442.6 384.2,445.3C386.5,448.0 386.1,447.7 385.0,452.3C383.9,456.9 382.5,458.2 380.6,460.8C378.7,463.4 381.1,462.6 378.6,461.0C376.1,459.4 374.9,459.4 372.3,455.4C369.7,451.4 368.5,451.4 370.0,447.7Z" fill="url(#strw)" filter="url(#b0)"/>
<path d="M390.9,446.5C392.6,441.8 394.4,440.0 399.3,438.6C404.2,437.2 404.5,438.5 407.2,441.9C409.9,445.3 409.5,444.8 408.2,450.0C406.9,455.2 405.0,456.5 402.8,459.4C400.6,462.3 403.5,461.2 400.8,459.6C398.1,458.0 396.7,458.1 393.7,454.2C390.7,450.3 389.2,451.2 390.9,446.5Z" fill="url(#strw)" filter="url(#b0)"/>
<path d="M515.8,426.7C516.5,424.3 515.3,425.1 519.4,423.8C523.5,422.5 523.2,423.5 528.0,422.8C532.8,422.1 531.1,423.1 533.8,421.6C536.5,420.1 535.1,421.5 536.0,418.4C536.9,415.3 533.3,414.5 536.4,412.2C539.5,409.9 539.0,410.5 545.3,411.5C551.6,412.5 549.6,411.7 555.4,415.1C561.2,418.5 559.6,417.7 562.6,421.6C565.6,425.5 564.1,421.9 564.4,426.7C564.7,431.5 562.8,430.5 563.4,436.0C564.0,441.5 564.0,438.6 566.2,443.2C568.4,447.8 569.4,445.1 570.1,449.7C570.8,454.3 571.8,453.5 568.4,456.9C565.0,460.3 566.0,459.6 559.8,459.8C553.6,460.0 554.5,461.0 549.7,457.6C544.9,454.2 548.4,454.3 545.3,449.7C542.2,445.1 544.6,447.5 540.3,443.9C536.0,440.3 537.9,441.3 532.4,438.9C526.9,436.5 527.1,438.2 523.7,436.7C520.3,435.2 524.5,436.2 522.3,434.3C520.1,432.4 519.4,433.5 517.2,431.0C515.0,428.5 515.1,429.1 515.8,426.7Z" fill="url(#blobg)" filter="url(#b0)"/>
<rect x="294.6" y="79.4" width="11.4" height="10.8" fill="none" stroke="#1f467f" stroke-width="1.9"/>
<path d="M293.7,85.0L241.5,90.5M247.6,92.8L241.5,90.5L247.0,87.0" fill="none" stroke="#618ecb" stroke-width="0.95" stroke-linecap="round" stroke-linejoin="round"/>
<path d="M136.9,111.0L110.3,127.4M116.8,126.9L110.3,127.4L113.7,121.8" fill="none" stroke="#618ecb" stroke-width="0.95" stroke-linecap="round" stroke-linejoin="round"/>
<path d="M365.9,84.9L405.0,84.9M399.2,81.9L405.0,84.9L399.2,87.9" fill="none" stroke="#618ecb" stroke-width="0.95" stroke-linecap="round" stroke-linejoin="round"/>
<path d="M483.4,52.8L501.0,104.7M501.9,98.3L501.0,104.7L496.3,100.2" fill="none" stroke="#618ecb" stroke-width="0.95" stroke-linecap="round" stroke-linejoin="round"/>
<path d="M527.0,52.8L515.4,101.0M519.6,96.1L515.4,101.0L513.9,94.7" fill="none" stroke="#618ecb" stroke-width="0.95" stroke-linecap="round" stroke-linejoin="round"/>
<path d="M468.0,111.7L492.0,125.5M488.5,120.1L492.0,125.5L485.5,125.2" fill="none" stroke="#618ecb" stroke-width="0.95" stroke-linecap="round" stroke-linejoin="round"/>
<path d="M543.8,113.9L520.3,128.5M526.8,128.0L520.3,128.5L523.7,122.9" fill="none" stroke="#618ecb" stroke-width="0.95" stroke-linecap="round" stroke-linejoin="round"/>
<path d="M470.0,224.9L436.7,257.8M442.9,255.8L436.7,257.8L438.7,251.6" fill="none" stroke="#618ecb" stroke-width="0.95" stroke-linecap="round" stroke-linejoin="round"/>
<path d="M83.8,208.0L84.3,391.5M87.2,385.7L84.3,391.5L81.3,385.7" fill="none" stroke="#618ecb" stroke-width="0.95" stroke-linecap="round" stroke-linejoin="round"/>
<path d="M140.0,432.4L200.5,432.4M194.7,429.4L200.5,432.4L194.7,435.4" fill="none" stroke="#618ecb" stroke-width="0.95" stroke-linecap="round" stroke-linejoin="round"/>
<path d="M304.4,439.3L346.3,439.3M340.5,436.3L346.3,439.3L340.5,442.3" fill="none" stroke="#618ecb" stroke-width="0.95" stroke-linecap="round" stroke-linejoin="round"/>
<path d="M396.9,364.3L395.7,405.8M398.8,400.1L395.7,405.8L392.9,399.9" fill="none" stroke="#618ecb" stroke-width="0.95" stroke-linecap="round" stroke-linejoin="round"/>
<path d="M463.0,442.4L502.5,442.4M496.7,439.4L502.5,442.4L496.7,445.4" fill="none" stroke="#618ecb" stroke-width="0.95" stroke-linecap="round" stroke-linejoin="round"/>
<path d="M534.0,403.8L529.0,366.0M526.8,372.1L529.0,366.0L532.7,371.4" fill="none" stroke="#618ecb" stroke-width="0.95" stroke-linecap="round" stroke-linejoin="round"/>
<path d="M553.0,403.8L581.0,370.0M575.0,372.6L581.0,370.0L579.6,376.3" fill="none" stroke="#618ecb" stroke-width="0.95" stroke-linecap="round" stroke-linejoin="round"/>
<path d="M566.0,416.7L598.8,397.4M592.3,397.8L598.8,397.4L595.3,402.9" fill="none" stroke="#618ecb" stroke-width="0.95" stroke-linecap="round" stroke-linejoin="round"/>
<path d="M575.7,436.0L610.0,430.0M603.8,428.1L610.0,430.0L604.8,433.9" fill="none" stroke="#618ecb" stroke-width="0.95" stroke-linecap="round" stroke-linejoin="round"/>
<text x="416" y="17.5" font-size="13.4" textLength="21" lengthAdjust="spacingAndGlyphs" >Eye</text>
<text x="605.5" y="36.7" font-size="13.4" textLength="30.5" lengthAdjust="spacingAndGlyphs" >Brain</text>
<text x="605.5" y="99.5" font-size="13.4" textLength="62.3" lengthAdjust="spacingAndGlyphs" >Blood cells</text>
<text x="395.3" y="140.4" font-size="13.4" textLength="30" lengthAdjust="spacingAndGlyphs" >Heart</text>
<text x="307" y="225" font-size="13.4" textLength="38" lengthAdjust="spacingAndGlyphs" >Human</text>
<text x="140" y="136" font-size="13.4" textLength="37" lengthAdjust="spacingAndGlyphs" >Human</text>
<text x="182" y="136" font-size="13.4" textLength="60" lengthAdjust="spacingAndGlyphs" >Skin tissue</text>
<text x="28" y="192" font-size="13.4" textLength="128" lengthAdjust="spacingAndGlyphs" >Skin cell in culture dish</text>
<text x="450" y="219.6" font-size="13.4" textLength="58" lengthAdjust="spacingAndGlyphs" >Adult stem</text>
<text x="513" y="219.6" font-size="13.4" textLength="24" lengthAdjust="spacingAndGlyphs" >cells</text>
<text x="141" y="224.7" font-size="13.4" textLength="102" lengthAdjust="spacingAndGlyphs" >Virus Transduction</text>
<text x="131" y="273" font-size="13.4" textLength="86" lengthAdjust="spacingAndGlyphs" >Plasmid Vectors</text>
<text x="131" y="324.2" font-size="13.4" textLength="112" lengthAdjust="spacingAndGlyphs" >Protein Transduction</text>
<text x="147" y="351.6" font-size="13.4" textLength="83" lengthAdjust="spacingAndGlyphs" >Small molecule</text>
<text x="147" y="368.5" font-size="13.4" textLength="49" lengthAdjust="spacingAndGlyphs" >mediated</text>
<text x="147" y="384.5" font-size="13.4" textLength="66" lengthAdjust="spacingAndGlyphs" >transduction</text>
<text x="141.6" y="449.8" font-size="13.4" textLength="49.6" lengthAdjust="spacingAndGlyphs" >Hydrogel</text>
<text x="1.6" y="475.9" font-size="13.4" textLength="41" lengthAdjust="spacingAndGlyphs" >Induced</text>
<text x="48.4" y="475.9" font-size="13.4" textLength="59" lengthAdjust="spacingAndGlyphs" >Pluripotent</text>
<text x="112" y="475.9" font-size="13.4" textLength="25.5" lengthAdjust="spacingAndGlyphs" >Stem</text>
<text x="143.1" y="475.9" font-size="13.4" textLength="28.3" lengthAdjust="spacingAndGlyphs" >Cells</text>
<text x="323.5" y="481.9" font-size="13.4" textLength="138" lengthAdjust="spacingAndGlyphs" >Hydrogel based Organoid</text>
<text x="488" y="474.5" font-size="13.4" textLength="149" lengthAdjust="spacingAndGlyphs" >Personalized disease model</text>
<text x="492.8" y="356.4" font-size="13.4" textLength="26" lengthAdjust="spacingAndGlyphs" >Drug</text>
<text x="524" y="356.4" font-size="13.4" textLength="52" lengthAdjust="spacingAndGlyphs" >discovery</text>
<text x="582.7" y="368.7" font-size="13.4" textLength="65" lengthAdjust="spacingAndGlyphs" >Cell therapy</text>
<text x="599.4" y="398.2" font-size="13.4" textLength="59.6" lengthAdjust="spacingAndGlyphs" >Toxicology</text>
<text x="615.5" y="422.2" font-size="13.4" textLength="70" lengthAdjust="spacingAndGlyphs" >Regenerative</text>
<text x="615.5" y="438.2" font-size="13.4" textLength="39.5" lengthAdjust="spacingAndGlyphs" >therapy</text>
<text font-size="13.4" textLength="136" lengthAdjust="spacingAndGlyphs" transform="translate(66.7,375) rotate(-90)">Reprogramming methods</text>
<text font-size="13.4" textLength="50.5" lengthAdjust="spacingAndGlyphs" transform="translate(450.4,270.6) rotate(-42.5)">Hydrogel</text>
</svg></body></html>
